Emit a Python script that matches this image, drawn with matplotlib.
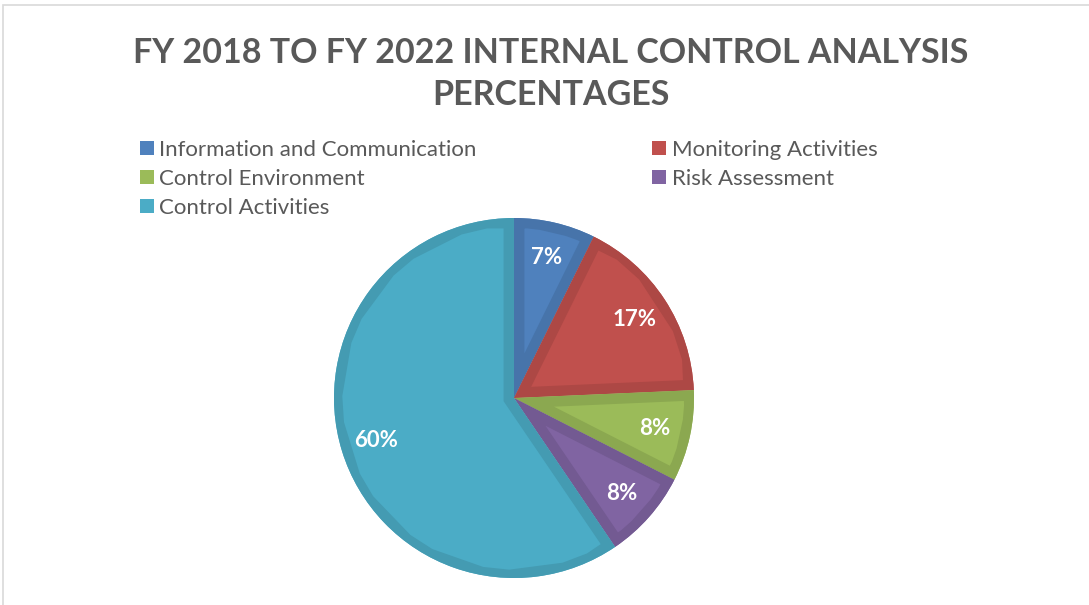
import matplotlib.pyplot as plt
from matplotlib.patches import Rectangle, Patch
from matplotlib.colors import to_rgb

plt.rcParams['font.family'] = ['Lato', 'DejaVu Sans']

labels = ['Information and Communication', 'Monitoring Activities',
          'Control Environment', 'Risk Assessment', 'Control Activities']
values = [7.3, 17.0, 8.2, 8.0, 59.5]
colors = ['#4F81BD', '#C0504D', '#9BBB59', '#8064A2', '#4BACC6']
title = 'FY 2018 TO FY 2022 INTERNAL CONTROL ANALYSIS\nPERCENTAGES'


def darker(c, f=0.9):
    r, g, b = to_rgb(c)
    return (r * f, g * f, b * f)


fig = plt.figure(figsize=(10.89, 6.05), dpi=100)

# chart frame (only top and left edges show in the crop)
fig.patches.append(Rectangle((2.5 / 1089, -0.1), 1.2, (605 - 5.5) / 605 + 0.1,
                             transform=fig.transFigure, fill=False,
                             edgecolor='#d9d9d9', linewidth=1.2))

ax = fig.add_axes([(514 - 180) / 1089, (605 - 578) / 605, 360 / 1089, 360 / 605])
wedges, texts, autotexts = ax.pie(values, colors=colors, startangle=90, counterclock=False,
                                  autopct=lambda p: '%.0f%%' % p, pctdistance=0.8,
                                  radius=1.0, wedgeprops=dict(linewidth=0))
ax.set_xlim(-1, 1)
ax.set_ylim(-1, 1)
ax.set_aspect('equal')

# darker inner band on each slice
for w, c in zip(wedges, colors):
    band = plt.Polygon(w.get_path().vertices, closed=True, transform=w.get_transform(),
                       facecolor='none', edgecolor=darker(c), linewidth=15)
    ax.add_patch(band)
    band.set_clip_path(w)

for t in autotexts:
    t.set_color('white')
    t.set_fontsize(16)
    t.set_fontweight('bold')

fig.text(0.506, 1 - 74 / 605, title, ha='center', va='center', fontsize=24.5,
         fontweight='bold', color='#595959', linespacing=1.42)

order = [0, 2, 4, 1, 3]
handles = [Patch(facecolor=colors[i], edgecolor='none') for i in order]
fig.legend(handles, [labels[i] for i in order], ncol=2, loc='upper left',
           bbox_to_anchor=(140 / 1089, 1 - 140 / 605), frameon=False,
           fontsize=16, labelcolor='#595959', handlelength=0.62, handleheight=0.62,
           handletextpad=0.25, columnspacing=7.9, labelspacing=0.4,
           borderaxespad=0, borderpad=0)

fig.savefig('out.png', dpi=100)
